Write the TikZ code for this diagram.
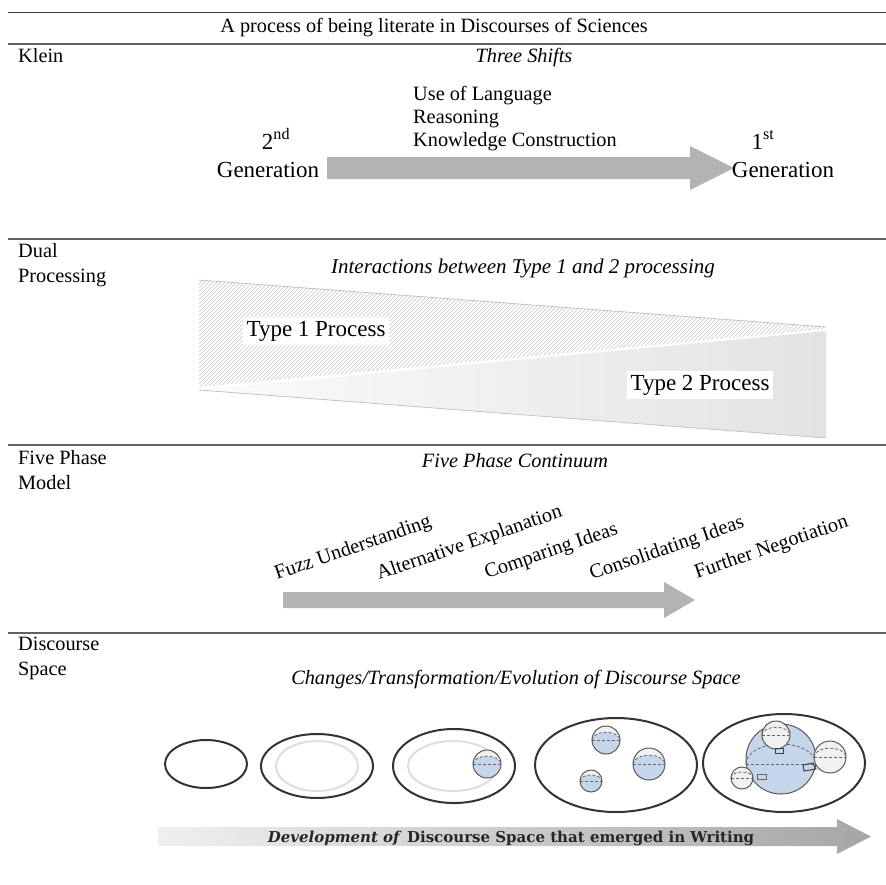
\documentclass[tikz,border=0pt]{standalone}
\usepackage{fontspec}
\setmainfont{Liberation Serif}
\newfontfamily\devfont{DejaVu Serif}
\usetikzlibrary{calc}

\definecolor{rulecol}{HTML}{3A3A3A}
\definecolor{arrowgray}{HTML}{B3B3B3}
\definecolor{spblue}{HTML}{C5D5EA}
\definecolor{edgepink}{HTML}{CDBFBF}

% a small sphere: tinted body, light cap, dashed equator
\newcommand{\discsphere}[4]{%
  \begin{scope}[shift={(#1,#2)}]
    \fill[#4] (0,0) circle[radius=#3];
    \fill[white!88!gray] (-#3,0) arc[start angle=180,end angle=360,radius=#3]
      arc[start angle=0,end angle=-180,x radius=#3,y radius=0.55*#3] -- cycle;
    \draw[gray!80!black,line width=0.8pt,dash pattern=on 3pt off 2pt]
      (-#3,0) arc[start angle=180,end angle=360,x radius=#3,y radius=0.55*#3];
    \draw[gray!80!black,line width=0.8pt,dash pattern=on 3pt off 2pt] (-#3,0) -- (#3,0);
    \draw[gray!70!black,line width=1pt] (0,0) circle[radius=#3];
  \end{scope}}

\tikzset{
  txt/.style={inner sep=0pt,font=\fontsize{20.3}{24.4}\selectfont},
  itxt/.style={txt,font=\fontsize{20.3}{24.4}\selectfont\itshape},
  side/.style={txt,anchor=base west,align=left},
  rulethin/.style={draw=rulecol!80,line width=1.4pt},
  phase/.style={inner sep=0pt,anchor=base west,rotate=19,font=\fontsize{20.3}{24}\selectfont},
  typelbl/.style={fill=white,inner sep=4pt,font=\fontsize{23}{27}\selectfont},
  gen/.style={inner sep=0pt,font=\fontsize{23}{27}\selectfont},
  ring/.style={draw=black!80,line width=2pt},
  innerring/.style={draw=black!13,line width=2pt},
}

\begin{document}
\begin{tikzpicture}[x=1pt,y=-1pt]
\useasboundingbox (0,0) rectangle (886,884);

% table rules
\coordinate (r0l) at (8,12.5);   \coordinate (r0r) at (886,12.5);
\coordinate (r1l) at (8,44);     \coordinate (r1r) at (886,44);
\coordinate (r2l) at (8,239);    \coordinate (r2r) at (886,239);
\coordinate (r3l) at (8,445);    \coordinate (r3r) at (886,445);
\coordinate (r4l) at (8,633);    \coordinate (r4r) at (886,633);
\draw[draw=rulecol,line width=1.5pt] (r0l) -- (r0r);
\draw[rulethin] (r1l) -- (r1r);
\draw[rulethin] (r2l) -- (r2r);
\draw[rulethin] (r3l) -- (r3r);
\draw[rulethin] (r4l) -- (r4r);

\node[txt,anchor=base] (title) at (434,32) {A process of being literate in Discourses of Sciences};

% row labels (anchored at the baseline of their last line)
\node[side] (klein) at (18,62) {Klein};
\node[side] (dual) at (18,282) {Dual\\Processing};
\node[side] (five) at (18,489) {Five Phase\\Model};
\node[side] (disc) at (18,675) {Discourse\\Space};

% ---- Klein: three shifts ----
\node[itxt,anchor=base] (shifts) at (524,62) {Three Shifts};
\node[txt,anchor=base west,align=left,font=\fontsize{20.3}{23}\selectfont] (shiftlist) at (413,146)
  {Use of Language\\Reasoning\\Knowledge Construction};
\fill[arrowgray] (327,157) -- (690,157) -- (690,146) -- (734,168) -- (690,190)
  -- (690,179) -- (327,179) -- cycle;
\node[gen,anchor=base] (second) at (276,149) {2\textsuperscript{nd}};
\node[gen,anchor=base] (secgen) at (268,177) {Generation};
\node[gen,anchor=base] (first) at (763,149) {1\textsuperscript{st}};
\node[gen,anchor=base] (firgen) at (783,177) {Generation};

% ---- Dual processing wedge ----
\node[itxt,anchor=base,font=\fontsize{21}{25}\selectfont\itshape] (inter) at (523,273) {Interactions between Type 1 and 2 processing};
\shade[left color=gray!3,right color=gray!22] (199,390) -- (826,331) -- (826,438) -- cycle;
\draw[edgepink,line width=0.8pt] (199,390) -- (826,438);
\begin{scope}
  \clip (199,280) -- (826,327) -- (826,329) -- (199,387) -- cycle;
  \fill[white] (199,280) rectangle (826,390);
  \foreach \i in {-120,-116,...,640}
    \draw[gray!45,line width=0.6pt] (199+\i,400) -- ++(130,-130);
\end{scope}
\draw[edgepink,line width=0.8pt] (199,280) -- (826,327);
\node[typelbl] (t1) at (316,331) {Type 1 Process};
\node[typelbl] (t2) at (700,385) {Type 2 Process};

% ---- Five phase continuum ----
\node[itxt,anchor=base] (cont) at (515,467) {Five Phase Continuum};
\node[phase] (p1) at (277,580) {Fuzz Understanding};
\node[phase] (p2) at (379,580) {Alternative Explanation};
\node[phase] (p3) at (487,579) {Comparing Ideas};
\node[phase] (p4) at (592,580) {Consolidating Ideas};
\node[phase] (p5) at (697,579) {Further Negotiation};
\fill[arrowgray] (283,592) -- (664,592) -- (664,582) -- (695,600) -- (664,618)
  -- (664,608) -- (283,608) -- cycle;

% ---- Discourse space ----
\node[itxt,anchor=base] (chg) at (516,684) {Changes/Transformation/Evolution of Discourse Space};

% stage 1
\draw[ring] (206,764) ellipse[x radius=41,y radius=24];
% stage 2
\draw[innerring] (317,766) ellipse[x radius=41,y radius=25];
\draw[ring] (317,766) ellipse[x radius=56,y radius=32];
% stage 3
\draw[innerring] (453,766) ellipse[x radius=45,y radius=25];
\draw[ring] (454,766) ellipse[x radius=61,y radius=37];
\discsphere{487}{764}{14}{spblue}
% stage 4
\draw[ring] (616,765) ellipse[x radius=81,y radius=47];
\discsphere{606}{740}{14}{spblue}
\discsphere{649}{764}{16}{spblue}
\discsphere{591}{781}{11}{spblue}
% stage 5
\draw[ring] (784,763) ellipse[x radius=81,y radius=49];
\fill[spblue] (781,759) circle[radius=35];
\draw[gray!80!black,line width=0.8pt,dash pattern=on 3pt off 2pt]
  (746,764) arc[start angle=180,end angle=360,x radius=35,y radius=20];
\draw[gray!80!black,line width=0.8pt,dash pattern=on 3pt off 2pt] (746,764) -- (816,764);
\draw[gray!70!black,line width=1pt] (781,759) circle[radius=35];
\discsphere{776}{735}{14}{gray!12}
\discsphere{830}{757}{16}{gray!12}
\discsphere{742}{778}{11}{gray!12}
\draw[black!75,line width=1pt] (775,748) rectangle (783,753);
\draw[black!75,line width=1pt] (803,765) -- (813,763) -- (816,769) -- (804,771) -- cycle;
\draw[black!60,line width=0.8pt] (757,774) rectangle (766,779);

% development arrow
\shade[left color=gray!12,right color=gray!70] (158,827) -- (837,827) -- (837,819)
  -- (871,836.5) -- (837,854) -- (837,846) -- (158,846) -- cycle;
\node[inner sep=0pt,anchor=base,font=\devfont\fontsize{15}{18}\selectfont\bfseries,text=black!85] (dev) at (511,842)
  {\textit{Development of} Discourse Space that emerged in Writing};
\end{tikzpicture}
\end{document}
